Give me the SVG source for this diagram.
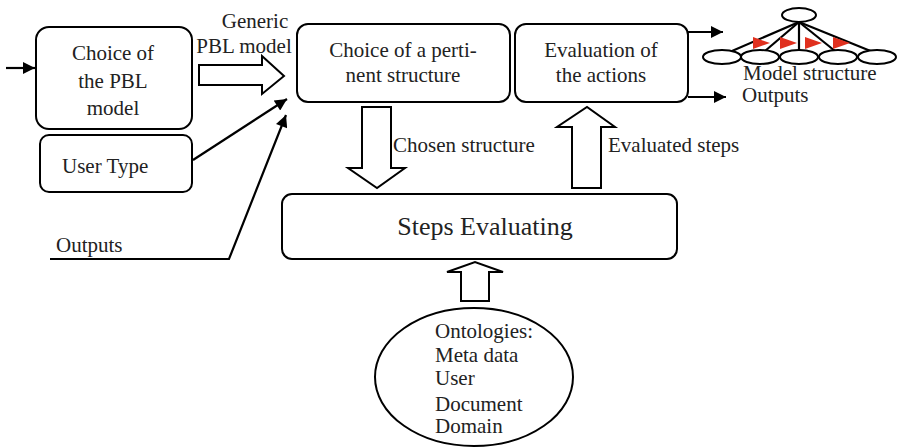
<svg xmlns="http://www.w3.org/2000/svg" width="900" height="447" viewBox="0 0 900 447">
  <defs>
    <marker id="arrowBlack" viewBox="0 0 10 10" refX="10" refY="5" markerWidth="15" markerHeight="12" markerUnits="userSpaceOnUse" orient="auto">
      <path d="M0,0 L10,5 L0,10 Z" fill="#000"/>
    </marker>
    <style>
      text { font-family: 'Liberation Serif', 'DejaVu Serif', 'Times New Roman', serif; font-size: 21px; fill: #222; }
      .big { font-size: 26px; }
      .mid { text-anchor: middle; }
      .box { fill: #fff; stroke: #000; stroke-width: 2; }
      .line { fill: none; stroke: #000; stroke-width: 2.2; }
      .block { fill: #fff; stroke: #000; stroke-width: 2; stroke-linejoin: miter; }
      .leaf { fill: #fff; stroke: #000; stroke-width: 2; }
      .red { fill: #e0301e; }
    </style>
  </defs>
  <rect width="900" height="447" fill="#fff"/>

  <!-- connectors -->
  <g id="connectors">
    <line class="line" x1="6" y1="68" x2="35" y2="68" marker-end="url(#arrowBlack)"/>
    <line class="line" x1="193" y1="160" x2="287" y2="99" marker-end="url(#arrowBlack)"/>
    <polyline class="line" points="50,259 229,259 286,115" marker-end="url(#arrowBlack)"/>
    <line class="line" x1="688" y1="32" x2="723" y2="32" marker-end="url(#arrowBlack)"/>
    <line class="line" x1="688" y1="97" x2="726" y2="97" marker-end="url(#arrowBlack)"/>
    <!-- block arrows -->
    <path class="block" d="M199,65 L262,65 L262,56 L284,76 L262,94 L262,85 L199,85 Z"/>
    <path class="block" d="M362,107 L391,107 L391,168 L405,168 L377,188 L348,168 L362,168 Z"/>
    <path class="block" d="M572,188 L601,188 L601,127 L615,127 L587,107 L557,127 L572,127 Z"/>
    <path class="block" d="M461,301 L489,301 L489,272 L503,272 L475,262 L447,272 L461,272 Z"/>
  </g>

  <!-- connector labels -->
  <g id="labels">
    <text class="mid" x="255" y="28">Generic</text>
    <text class="mid" x="244" y="53">PBL model</text>
    <text x="393" y="152">Chosen structure</text>
    <text x="608" y="152">Evaluated steps</text>
    <text x="56" y="252">Outputs</text>
    <text x="743" y="80" font-size="20">Model structure</text>
    <text x="742" y="102" font-size="20">Outputs</text>
  </g>

  <g id="choice-pbl">
    <rect class="box" x="36" y="27" width="156" height="102" rx="13"/>
    <text class="mid" x="113" y="60">Choice of</text>
    <text class="mid" x="113" y="88">the PBL</text>
    <text class="mid" x="113" y="115">model</text>
  </g>

  <g id="user-type">
    <rect class="box" x="40" y="135" width="152" height="57" rx="9"/>
    <text x="62" y="173">User Type</text>
  </g>

  <g id="choice-structure">
    <rect class="box" x="297" y="24" width="213" height="78" rx="11"/>
    <text class="mid" x="403" y="57">Choice of a perti-</text>
    <text class="mid" x="403" y="82">nent structure</text>
  </g>

  <g id="evaluation">
    <rect class="box" x="515" y="24" width="173" height="78" rx="11"/>
    <text class="mid" x="601" y="57">Evaluation of</text>
    <text class="mid" x="601" y="82">the actions</text>
  </g>

  <g id="steps-evaluating">
    <rect class="box" x="282" y="194" width="395" height="65" rx="10"/>
    <text class="big mid" x="485" y="235">Steps Evaluating</text>
  </g>

  <g id="ontologies">
    <ellipse class="box" cx="474" cy="377" rx="99" ry="69"/>
    <text x="435" y="338">Ontologies:</text>
    <text x="435" y="362">Meta data</text>
    <text x="435" y="385">User</text>
    <text x="435" y="411">Document</text>
    <text x="435" y="433">Domain</text>
  </g>

  <!-- small tree figure -->
  <g id="model-structure">
    <g class="line">
      <line x1="799" y1="22" x2="732" y2="51"/>
      <line x1="799" y1="22" x2="765" y2="51"/>
      <line x1="799" y1="22" x2="799" y2="51"/>
      <line x1="799" y1="22" x2="835" y2="51"/>
      <line x1="799" y1="22" x2="873" y2="52"/>
    </g>
    <ellipse class="leaf" cx="799" cy="15" rx="17" ry="7"/>
    <ellipse class="leaf" cx="722" cy="57" rx="19" ry="7"/>
    <ellipse class="leaf" cx="760" cy="57" rx="19" ry="7"/>
    <ellipse class="leaf" cx="799" cy="57" rx="19" ry="7"/>
    <ellipse class="leaf" cx="838" cy="57" rx="19" ry="7"/>
    <ellipse class="leaf" cx="877" cy="57" rx="19" ry="7"/>
    <path class="red" d="M753,37 L770,43 L753,49 Z"/>
    <path class="red" d="M780,37 L797,43 L780,49 Z"/>
    <path class="red" d="M805,37 L822,43 L805,49 Z"/>
    <path class="red" d="M833,37 L850,43 L833,49 Z"/>
  </g>
</svg>
